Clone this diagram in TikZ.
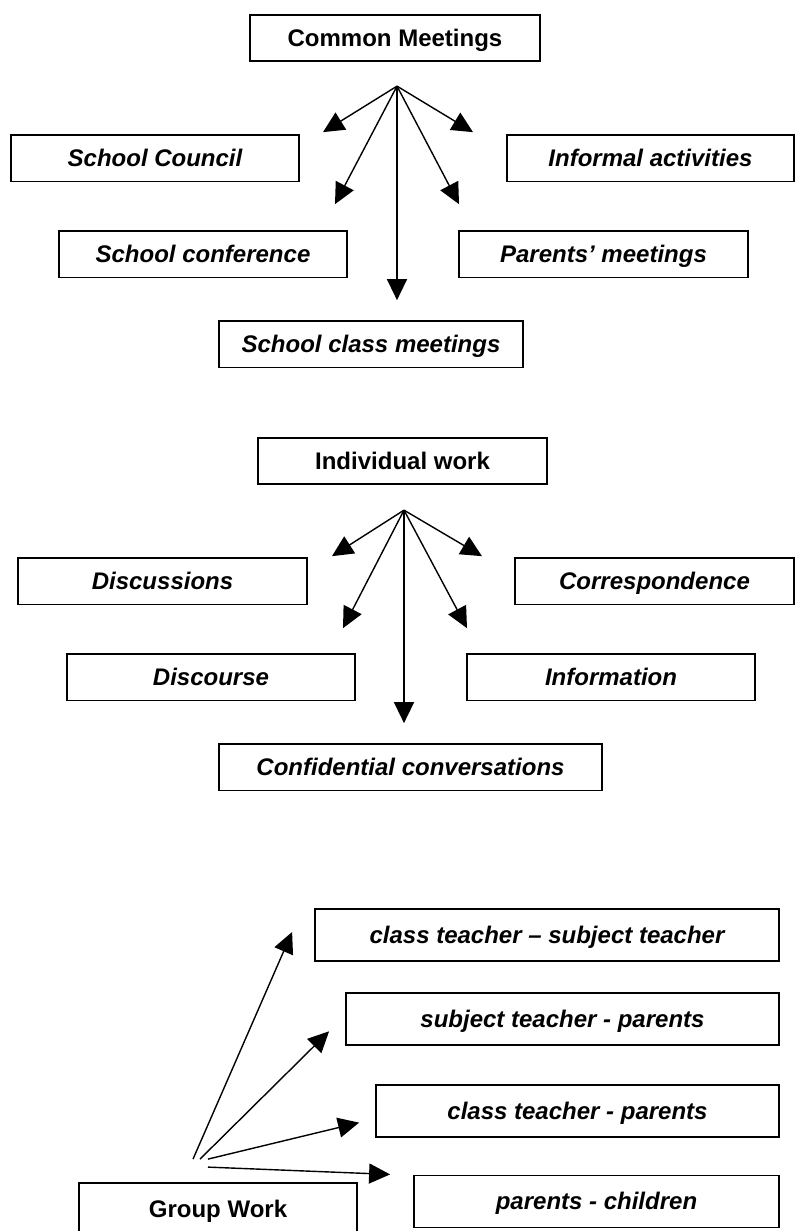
\documentclass[tikz,border=0pt]{standalone}
\usepackage{fontspec}
\setmainfont{Liberation Sans}
\usetikzlibrary{arrows.meta,positioning,calc}

\begin{document}
\begin{tikzpicture}[
  x=1pt,y=-1pt,
  box/.style={draw,line width=1.8pt,minimum height=46.5pt,inner sep=0pt,text height=17pt,text depth=0pt,font=\fontsize{24pt}{28pt}\selectfont\bfseries\itshape},
  head/.style={box,font=\fontsize{24pt}{28pt}\selectfont\bfseries},
  pairbox/.style={box,minimum height=52pt},
  arrow/.style={-{Triangle[length=21pt,width=20pt]},line width=1.4pt}
]
\useasboundingbox (0,0) rectangle (795,1231);

% common meetings
\node[head,minimum width=290pt] (meet) at (395,38) {Common Meetings};
\node[box,minimum width=288pt,below=72pt of meet,xshift=-240pt] (council) {School Council};
\node[box,minimum width=287pt,below=72pt of meet,xshift=255.5pt] (informal) {Informal activities};
\node[box,minimum width=288pt,below=168pt of meet,xshift=-192pt] (conference) {School conference};
\node[box,minimum width=289pt,below=168pt of meet,xshift=208.5pt] (parents) {Parents’ meetings};
\node[box,minimum width=304pt,below=258pt of meet,xshift=-24pt] (classmeet) {School class meetings};
\coordinate[below=24pt of meet,xshift=2pt] (meethub);
\coordinate (meettipa) at ($(meethub)+(-74,46)$);
\coordinate (meettipb) at ($(meethub)+(76,46)$);
\coordinate (meettipc) at ($(meethub)+(-62,118)$);
\coordinate (meettipd) at ($(meethub)+(62,118)$);
\coordinate (meettipe) at ($(meethub)+(0,214)$);
\draw[arrow] (meethub) -- (meettipa);
\draw[arrow] (meethub) -- (meettipb);
\draw[arrow] (meethub) -- (meettipc);
\draw[arrow] (meethub) -- (meettipd);
\draw[arrow] (meethub) -- (meettipe);

% individual work
\node[head,minimum width=289pt] (indiv) at (402.5,461) {Individual work};
\node[box,minimum width=289pt,below=72pt of indiv,xshift=-240pt] (discuss) {Discussions};
\node[box,minimum width=279pt,below=72pt of indiv,xshift=252pt] (corresp) {Correspondence};
\node[box,minimum width=288pt,below=168pt of indiv,xshift=-191.5pt] (discourse) {Discourse};
\node[box,minimum width=288pt,below=168pt of indiv,xshift=208.5pt] (inform) {Information};
\node[box,minimum width=383pt,below=258pt of indiv,xshift=8pt] (confid) {Confidential conversations};
\coordinate[below=25pt of indiv,xshift=1.5pt] (indivhub);
\coordinate (indivtipa) at ($(indivhub)+(-72,46)$);
\coordinate (indivtipb) at ($(indivhub)+(78,46)$);
\coordinate (indivtipc) at ($(indivhub)+(-61,118)$);
\coordinate (indivtipd) at ($(indivhub)+(63,118)$);
\coordinate (indivtipe) at ($(indivhub)+(0,213)$);
\draw[arrow] (indivhub) -- (indivtipa);
\draw[arrow] (indivhub) -- (indivtipb);
\draw[arrow] (indivhub) -- (indivtipc);
\draw[arrow] (indivhub) -- (indivtipd);
\draw[arrow] (indivhub) -- (indivtipe);

% group work
\node[head,minimum width=278pt,minimum height=52pt] (group) at (218,1209) {Group Work};
\node[pairbox,minimum width=464pt] (ctst) at (547,935) {class teacher – subject teacher};
\node[pairbox,minimum width=433pt,below=30pt of ctst.south east,anchor=north east] (stpar) {subject teacher - parents};
\node[pairbox,minimum width=403pt,below=38pt of stpar.south east,anchor=north east] (ctpar) {class teacher - parents};
\node[pairbox,minimum width=365pt,below=37pt of ctpar.south east,anchor=north east] (parch) {parents - children};
\coordinate (groupa) at ($(group.north)+(-25,-23)$);
\coordinate (groupb) at ($(group.north)+(-18,-23)$);
\coordinate (groupc) at ($(group.north)+(-10,-23)$);
\coordinate (groupd) at ($(group.north)+(-10,-15)$);
\coordinate (ctsttip) at ($(ctst.west)+(-22,-3)$);
\coordinate (stpartip) at ($(stpar.west)+(-16,12.5)$);
\coordinate (ctpartip) at ($(ctpar.west)+(-16,12)$);
\coordinate (parchtip) at ($(parch.west)+(-23,-27)$);
\draw[arrow] (groupa) -- (ctsttip);
\draw[arrow] (groupb) -- (stpartip);
\draw[arrow] (groupc) -- (ctpartip);
\draw[arrow] (groupd) -- (parchtip);
\end{tikzpicture}
\end{document}
